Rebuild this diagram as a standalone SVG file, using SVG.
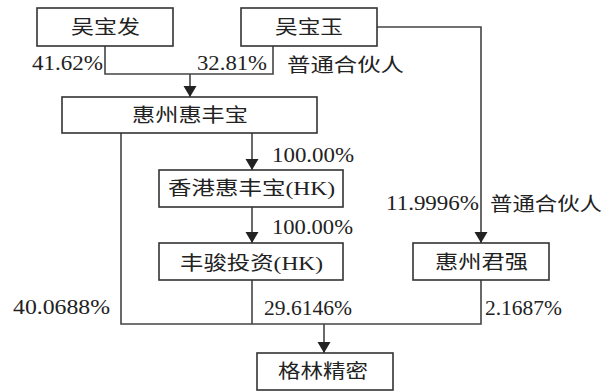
<svg xmlns="http://www.w3.org/2000/svg" width="603" height="391" viewBox="0 0 603 391">
<defs>
<style>
.box{fill:#fff;stroke:#333;stroke-width:1.6}
.ln{fill:none;stroke:#444;stroke-width:1.6}
.t{font-family:"Liberation Serif","Noto Sans CJK SC",serif;font-size:19px;fill:#222}
.n{font-family:"Liberation Serif","Noto Sans CJK SC",serif;font-size:20px;fill:#222}
</style>
<marker id="arr" markerUnits="userSpaceOnUse" markerWidth="12" markerHeight="14" refX="11" refY="7" orient="auto">
<path d="M0,0.5 L11,7 L0,13.5 z" fill="#222"/>
</marker>
</defs>
<rect width="603" height="391" fill="#fff"/>
<g id="connectors">
<polyline class="ln" points="105,46 105,74 273,74 273,46"/>
<line class="ln" x1="190" y1="74" x2="190" y2="97" marker-end="url(#arr)"/>
<line class="ln" x1="252" y1="133" x2="252" y2="170" marker-end="url(#arr)"/>
<line class="ln" x1="252" y1="207" x2="252" y2="243" marker-end="url(#arr)"/>
<polyline class="ln" points="377,27 481,27 481,243" marker-end="url(#arr)"/>
<polyline class="ln" points="121,133 121,324 481,324 481,280"/>
<line class="ln" x1="252" y1="280" x2="252" y2="324"/>
<line class="ln" x1="324" y1="324" x2="324" y2="353" marker-end="url(#arr)"/>
<text class="n" x="32" y="70" textLength="71" lengthAdjust="spacingAndGlyphs">41.62%</text>
<text class="n" x="197" y="70" textLength="70" lengthAdjust="spacingAndGlyphs">32.81%</text>
<text class="t" x="287" y="72" textLength="117" lengthAdjust="spacingAndGlyphs">普通合伙人</text>
<text class="n" x="272" y="162" textLength="82" lengthAdjust="spacingAndGlyphs">100.00%</text>
<text class="n" x="272" y="234" textLength="81" lengthAdjust="spacingAndGlyphs">100.00%</text>
<text class="n" x="386" y="210" textLength="93" lengthAdjust="spacingAndGlyphs">11.9996%</text>
<text class="t" x="490" y="211" textLength="112" lengthAdjust="spacingAndGlyphs">普通合伙人</text>
<text class="n" x="13" y="314" textLength="97" lengthAdjust="spacingAndGlyphs">40.0688%</text>
<text class="n" x="264" y="315" textLength="88" lengthAdjust="spacingAndGlyphs">29.6146%</text>
<text class="n" x="485" y="315" textLength="77" lengthAdjust="spacingAndGlyphs">2.1687%</text>
</g>
<g id="wubaofa">
<rect class="box" x="37" y="8" width="136" height="38"/>
<text class="t" x="71" y="34" textLength="69" lengthAdjust="spacingAndGlyphs">吴宝发</text>
</g>
<g id="wubaoyu">
<rect class="box" x="241" y="8" width="136" height="38"/>
<text class="t" x="275" y="34" textLength="68" lengthAdjust="spacingAndGlyphs">吴宝玉</text>
</g>
<g id="huizhouhuifengbao">
<rect class="box" x="62" y="97" width="255" height="36"/>
<text class="t" x="132" y="122" textLength="116" lengthAdjust="spacingAndGlyphs">惠州惠丰宝</text>
</g>
<g id="hkhuifengbao">
<rect class="box" x="159" y="170" width="184" height="37"/>
<text class="t" x="168" y="195" textLength="167" lengthAdjust="spacingAndGlyphs">香港惠丰宝(HK)</text>
</g>
<g id="fengjun">
<rect class="box" x="159" y="243" width="184" height="37"/>
<text class="t" x="180" y="270" textLength="143" lengthAdjust="spacingAndGlyphs">丰骏投资(HK)</text>
</g>
<g id="huizhoujunqiang">
<rect class="box" x="413" y="243" width="136" height="37"/>
<text class="t" x="435" y="269" textLength="93" lengthAdjust="spacingAndGlyphs">惠州君强</text>
</g>
<g id="gelinjingmi">
<rect class="box" x="257" y="353" width="136" height="37"/>
<text class="t" x="278" y="378" textLength="90" lengthAdjust="spacingAndGlyphs">格林精密</text>
</g>
</svg>
